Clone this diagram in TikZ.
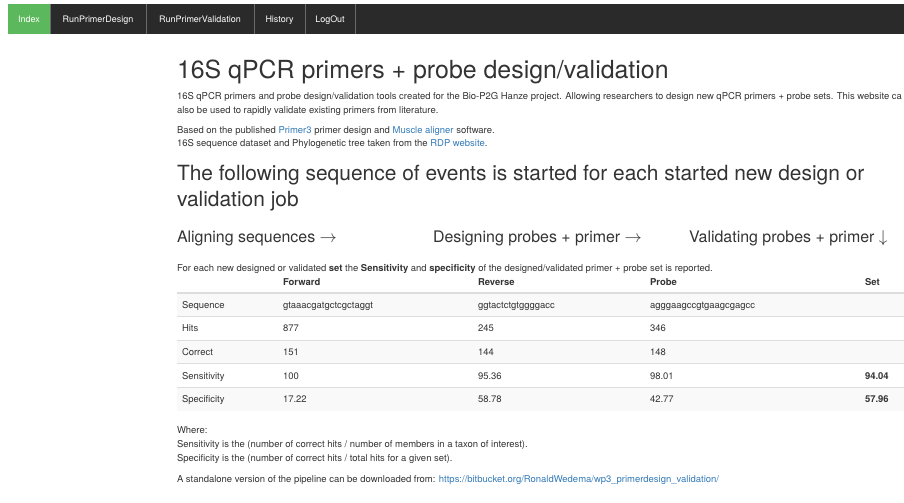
\documentclass[tikz,border=0pt]{standalone}
\usepackage{fontspec}
\setmainfont{TeX Gyre Heros}
\definecolor{txt}{HTML}{333333}
\definecolor{lnk}{HTML}{337AB7}
\definecolor{navbg}{HTML}{2A2A2A}
\definecolor{navgreen}{HTML}{5CB85C}
\definecolor{navsep}{HTML}{6A6A6A}
\definecolor{rulec}{HTML}{DDDDDD}
\definecolor{stripe}{HTML}{F9F9F9}
\begin{document}
\begin{tikzpicture}[x=1bp,y=-1bp,
  every node/.style={inner sep=0pt,outer sep=0pt,text=txt},
  navtext/.style={anchor=base,text=white,font=\fontsize{9}{11}\selectfont},
  body/.style={anchor=base west,font=\fontsize{9.5}{11}\selectfont},
  htitle/.style={anchor=base west,font=\fontsize{25}{30}\selectfont},
  htwo/.style={anchor=base west,font=\fontsize{21}{25}\selectfont},
  hthree/.style={anchor=base west,font=\fontsize{16}{19}\selectfont},
  cell/.style={anchor=base west,font=\fontsize{9.5}{11}\selectfont},
  hcell/.style={anchor=base west,font=\fontsize{9.5}{11}\selectfont\bfseries},
  navsepline/.style={draw=navsep,line width=0.8bp},
  rowline/.style={draw=rulec,line width=1bp},
  headline/.style={draw=rulec,line width=2bp}]
\useasboundingbox (0,0) rectangle (904,503);
\clip (0,0) rectangle (904,503);
% navbar
\fill[navbg] (8,4) rectangle (904,34);
\fill[navgreen] (8,4) rectangle (50,34);
\foreach \x in {50,146,254,305,355} \draw[navsepline] (\x,4) -- (\x,34);
\node[navtext] (nIndex) at (29,22.5) {Index};
\node[navtext] (nDesign) at (98,22.5) {RunPrimerDesign};
\node[navtext] (nValid) at (200,22.5) {RunPrimerValidation};
\node[navtext] (nHist) at (279.5,22.5) {History};
\node[navtext] (nLog) at (330,22.5) {LogOut};
% title and intro
\node[htitle] (title) at (177,79) {16S qPCR primers + probe design/validation};
\node[body] (p1) at (177,99.5) {16S qPCR primers and probe design/validation tools created for the Bio-P2G Hanze project. Allowing researchers to design new qPCR primers + probe sets. This website ca};
\node[body] (p2) at (177,113.5) {also be used to rapidly validate existing primers from literature.};
\node[body] (p3) at (177,133.5) {Based on the published \textcolor{lnk}{Primer3} primer design and \textcolor{lnk}{Muscle aligner} software.};
\node[body] (p4) at (177,146.5) {16S sequence dataset and Phylogenetic tree taken from the \textcolor{lnk}{RDP website}.};
% h2
\node[htwo] (h2a) at (177,180.5) {The following sequence of events is started for each started new design or};
\node[htwo] (h2b) at (177,206.5) {validation job};
% steps
\node[hthree] (s1) at (177,242.7) {Aligning sequences $\rightarrow$};
\node[hthree] (s2) at (433,242.7) {Designing probes + primer $\rightarrow$};
\node[hthree] (s3) at (689,242.7) {Validating probes + primer $\downarrow$};
\node[body] (p5) at (177,271.5) {For each new designed or validated \textbf{set} the \textbf{Sensitivity} and \textbf{specificity} of the designed/validated primer + probe set is reported.};
% table
\fill[stripe] (177,293) rectangle (904,316.6);
\fill[stripe] (177,340.2) rectangle (904,363.8);
\fill[stripe] (177,387.4) rectangle (904,411);
\draw[headline] (177,293) -- (904,293);
\foreach \y in {316.6,340.2,363.8,387.4} \draw[rowline] (177,\y) -- (904,\y);
\node[hcell] (hF) at (283,285.5) {Forward};
\node[hcell] (hR) at (478,285.5) {Reverse};
\node[hcell] (hP) at (650,285.5) {Probe};
\node[hcell] (hS) at (865,285.5) {Set};
\node[cell] (r1) at (182,308.3) {Sequence};
\node[cell] (r1F) at (283,308.3) {gtaaacgatgctcgctaggt};
\node[cell] (r1R) at (478,308.3) {ggtactctgtggggacc};
\node[cell] (r1P) at (650,308.3) {agggaagccgtgaagcgagcc};
\node[cell] (r2) at (182,331.9) {Hits};
\node[cell] (r2F) at (283,331.9) {877};
\node[cell] (r2R) at (478,331.9) {245};
\node[cell] (r2P) at (650,331.9) {346};
\node[cell] (r3) at (182,355.5) {Correct};
\node[cell] (r3F) at (283,355.5) {151};
\node[cell] (r3R) at (478,355.5) {144};
\node[cell] (r3P) at (650,355.5) {148};
\node[cell] (r4) at (182,379.1) {Sensitivity};
\node[cell] (r4F) at (283,379.1) {100};
\node[cell] (r4R) at (478,379.1) {95.36};
\node[cell] (r4P) at (650,379.1) {98.01};
\node[hcell] (r4S) at (865,379.1) {94.04};
\node[cell] (r5) at (182,402.7) {Specificity};
\node[cell] (r5F) at (283,402.7) {17.22};
\node[cell] (r5R) at (478,402.7) {58.78};
\node[cell] (r5P) at (650,402.7) {42.77};
\node[hcell] (r5S) at (865,402.7) {57.96};
% footer text
\node[body] (w1) at (177,433.5) {Where:};
\node[body] (w2) at (177,447.5) {Sensitivity is the (number of correct hits / number of members in a taxon of interest).};
\node[body] (w3) at (177,461.5) {Specificity is the (number of correct hits / total hits for a given set).};
\node[body] (w4) at (177,482.5) {A standalone version of the pipeline can be downloaded from: \textcolor{lnk}{https://bitbucket.org/RonaldWedema/wp3\_primerdesign\_validation/}};
\end{tikzpicture}
\end{document}
